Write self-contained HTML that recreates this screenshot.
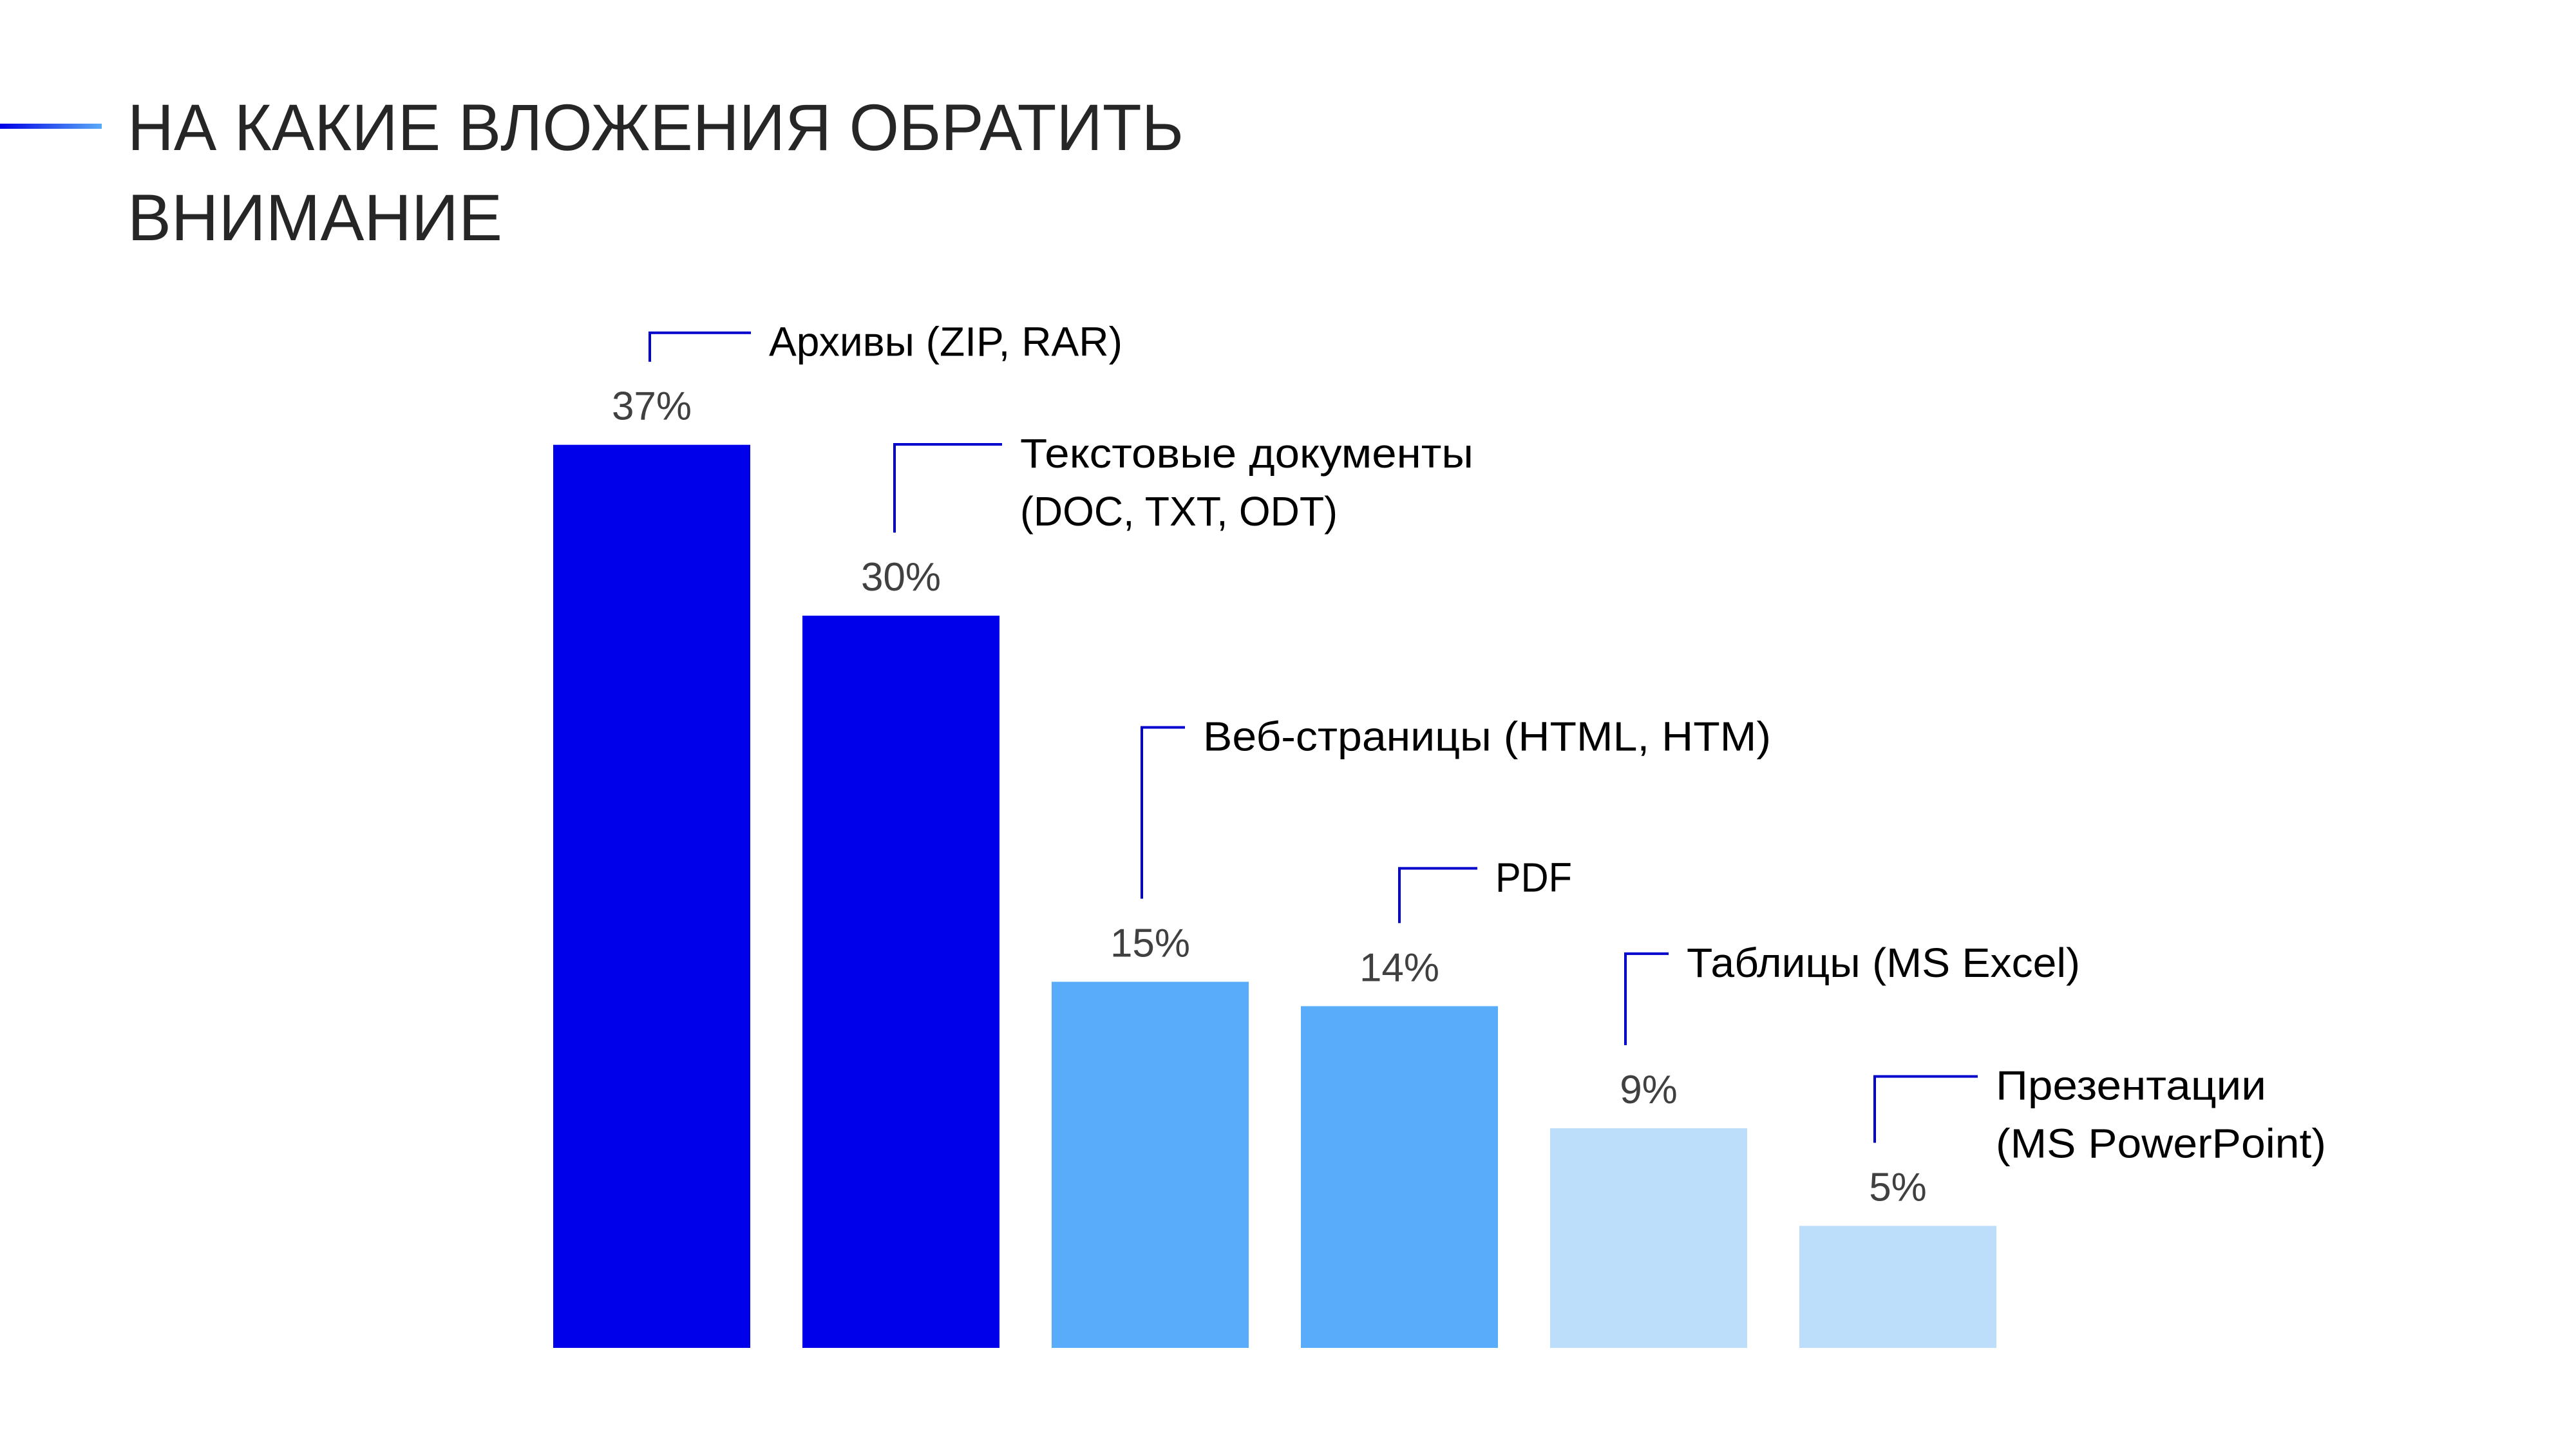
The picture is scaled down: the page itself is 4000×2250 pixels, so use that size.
<!DOCTYPE html>
<html><head><meta charset="utf-8"><style>
html,body{margin:0;padding:0;background:#fff;}
svg{display:block;}
</style></head><body>
<svg id="chart" width="4000" height="2250" viewBox="0 0 4000 2250" xmlns="http://www.w3.org/2000/svg" font-family="'Liberation Sans', sans-serif">
<defs><linearGradient id="acc" x1="0" x2="1" y1="0" y2="0"><stop offset="0" stop-color="#0000e6"/><stop offset="1" stop-color="#5aaaf8"/></linearGradient></defs>
<rect x="0" y="192" width="158" height="8" fill="url(#acc)"/>
<text x="198" y="233" font-size="102" fill="#262626" textLength="1640" lengthAdjust="spacingAndGlyphs">НА КАКИЕ ВЛОЖЕНИЯ ОБРАТИТЬ</text>
<text x="198" y="373" font-size="102" fill="#262626" textLength="582" lengthAdjust="spacingAndGlyphs">ВНИМАНИЕ</text>
<g id="bars"></g>
</svg>
<script>
const categories = [["Архивы (ZIP, RAR)"],["Текстовые документы","(DOC, TXT, ODT)"],["Веб-страницы (HTML, HTM)"],["PDF"],["Таблицы (MS Excel)"],["Презентации","(MS PowerPoint)"]];
const values = [37,30,15,14,9,5];
const valueLabels = ["37%","30%","15%","14%","9%","5%"];
const barColors = ["#0000ea","#0000ea","#58acfa","#58acfa","#bcdefa","#bcdefa"];
// layout (pixels, not data)
const leaderLen = [45,137,266,85,142,103];
const leaderDx = [-3,-10,-13,0,-36,-36];
const leaderArm = [157,167,67,121,67,160];
const labelW = [[549],[704,493],[882],[119],[611],[420,513]];

const NS="http://www.w3.org/2000/svg";
const g=document.getElementById('bars');
const x0=859, step=387, bw=306, base=2093, perPct=37.9;
const xPos=i=>x0+i*step;
const yPos=v=>base-v*perPct;
function el(t,a){const e=document.createElementNS(NS,t);for(const k in a)e.setAttribute(k,a[k]);g.appendChild(e);return e;}
values.forEach((v,i)=>{
  const x=xPos(i), y=yPos(v), cx=x+bw/2;
  const r=el('rect',{x:x,y:y,width:bw,height:base-y,fill:barColors[i]});
  
  
  const t=el('text',{x:cx,y:y-39,'font-size':62,fill:'#404040','text-anchor':'middle'});
  t.textContent=valueLabels[i];
  
  
  const lx=cx+leaderDx[i], lb=y-129, lt=lb-leaderLen[i];
  const p=el('path',{d:`M${lx} ${lb} V${lt} H${lx+leaderArm[i]}`,fill:'none',stroke:'#0000cc','stroke-width':4});
  
  
  categories[i].forEach((line,j)=>{
    const c=el('text',{x:lx+leaderArm[i]+28,y:lt+36+j*90,'font-size':64,fill:'#000',textLength:labelW[i][j],lengthAdjust:'spacingAndGlyphs'});
    c.textContent=line;
    
    
  });
});
</script>
</body></html>
